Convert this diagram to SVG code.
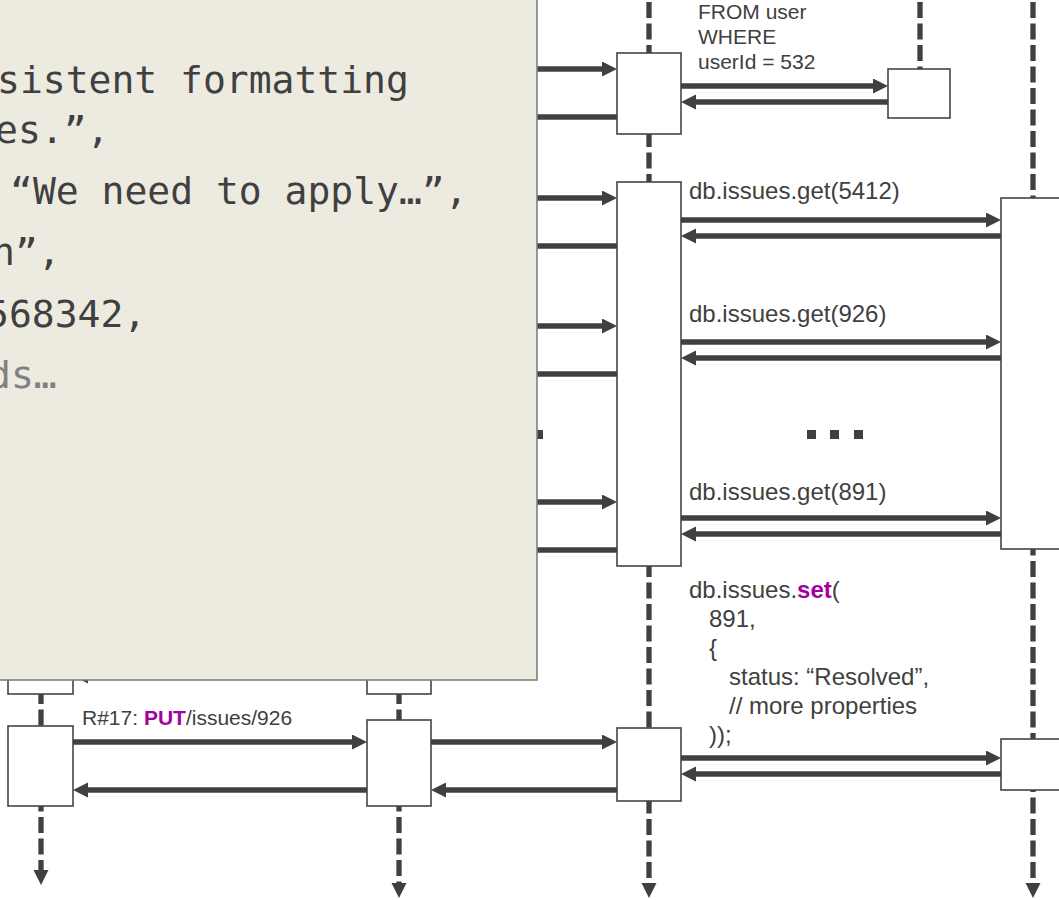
<svg xmlns="http://www.w3.org/2000/svg" width="1059" height="900" viewBox="0 0 1059 900">
<defs>
<marker id="ah" markerUnits="userSpaceOnUse" markerWidth="16" markerHeight="16" refX="3" refY="7.5" orient="auto">
<path d="M0,0 L15,7.5 L0,15 Z" fill="#404040"/>
</marker>
<style>
.life{stroke:#404040;stroke-width:5.3;stroke-dasharray:16 5.5;fill:none}
.box{fill:#ffffff;stroke:#454545;stroke-width:1.6}
.msg{stroke:#404040;stroke-width:5.5;fill:none;marker-end:url(#ah)}
.lbl{font-family:"Liberation Sans",Arial,sans-serif;fill:#404040}
.s21{font-size:21px}
.s24{font-size:24px}
.hl{fill:#a4009e;font-weight:bold}
.dot{fill:#404040}
.note{fill:#edebe0;stroke:#7f7f7f;stroke-width:1.6}
.code{font-family:"DejaVu Sans Mono","Liberation Mono",monospace;font-size:38px;fill:#404040}
.dim{fill:#808080}
</style>
</defs>
<rect width="1059" height="900" fill="#ffffff"/>

<g id="lane1">
<line class="life" x1="41" y1="0" x2="41" y2="873" marker-end="url(#ah)"/>
<rect class="box" x="8" y="600" width="65" height="94"/>
<rect class="box" x="8" y="726" width="65" height="80"/>
</g>
<g id="lane2">
<line class="life" x1="399" y1="0" x2="399" y2="886" marker-end="url(#ah)"/>
<rect class="box" x="367" y="600" width="64" height="94"/>
<rect class="box" x="367" y="720" width="64" height="86"/>
</g>
<g id="lane3">
<line class="life" x1="649" y1="2" x2="649" y2="886" marker-end="url(#ah)"/>
<rect class="box" x="617" y="53" width="64" height="81"/>
<rect class="box" x="617" y="182" width="64" height="384"/>
<rect class="box" x="617" y="728" width="64" height="73"/>
</g>
<g id="lane4">
<line class="life" x1="920" y1="2" x2="920" y2="69"/>
<rect class="box" x="888" y="69" width="62" height="49"/>
</g>
<g id="lane5">
<line class="life" x1="1033" y1="2" x2="1033" y2="886" marker-end="url(#ah)"/>
<rect class="box" x="1001" y="198" width="64" height="351"/>
<rect class="box" x="1001" y="739" width="64" height="51"/>
</g>

<g id="connectors">
<line class="msg" x1="431" y1="69" x2="605" y2="69"/>
<line class="msg" x1="617" y1="117" x2="443" y2="117"/>
<line class="msg" x1="681" y1="86" x2="876" y2="86"/>
<line class="msg" x1="888" y1="102" x2="693" y2="102"/>
<line class="msg" x1="431" y1="198" x2="605" y2="198"/>
<line class="msg" x1="617" y1="246" x2="443" y2="246"/>
<line class="msg" x1="681" y1="220" x2="989" y2="220"/>
<line class="msg" x1="1001" y1="236" x2="693" y2="236"/>
<line class="msg" x1="431" y1="326" x2="605" y2="326"/>
<line class="msg" x1="617" y1="374" x2="443" y2="374"/>
<line class="msg" x1="681" y1="342" x2="989" y2="342"/>
<line class="msg" x1="1001" y1="358" x2="693" y2="358"/>
<line class="msg" x1="431" y1="502" x2="605" y2="502"/>
<line class="msg" x1="617" y1="550" x2="443" y2="550"/>
<line class="msg" x1="681" y1="518" x2="989" y2="518"/>
<line class="msg" x1="1001" y1="534" x2="693" y2="534"/>
<line class="msg" x1="367" y1="676" x2="85" y2="676"/>
<line class="msg" x1="73" y1="742" x2="355" y2="742"/>
<line class="msg" x1="367" y1="790" x2="85" y2="790"/>
<line class="msg" x1="431" y1="742" x2="605" y2="742"/>
<line class="msg" x1="617" y1="790" x2="443" y2="790"/>
<line class="msg" x1="681" y1="758" x2="989" y2="758"/>
<line class="msg" x1="1001" y1="774" x2="693" y2="774"/>
<rect class="dot" x="488" y="430" width="9" height="9"/>
<rect class="dot" x="511" y="430" width="9" height="9"/>
<rect class="dot" x="534" y="430" width="9" height="9"/>
<rect class="dot" x="807" y="430" width="9" height="9"/>
<rect class="dot" x="830" y="430" width="9" height="9"/>
<rect class="dot" x="854" y="430" width="9" height="9"/>
<text class="lbl s21" x="698" y="19">FROM user</text>
<text class="lbl s21" x="698" y="44">WHERE</text>
<text class="lbl s21" x="698" y="69">userId = 532</text>
<text class="lbl s24" x="689" y="199">db.issues.get(5412)</text>
<text class="lbl s24" x="689" y="322">db.issues.get(926)</text>
<text class="lbl s24" x="689" y="500">db.issues.get(891)</text>
<text class="lbl s24" x="689" y="598">db.issues.<tspan class="hl">set</tspan>(</text>
<text class="lbl s24" x="709" y="627">891,</text>
<text class="lbl s24" x="709" y="656">{</text>
<text class="lbl s24" x="729" y="685">status: “Resolved”,</text>
<text class="lbl s24" x="729" y="714">// more properties</text>
<text class="lbl s24" x="709" y="743">));</text>
<text class="lbl s21" x="82" y="725">R#17: <tspan class="hl">PUT</tspan>/issues/926</text>
</g>

<g id="note">
<rect class="note" x="-10" y="-10" width="547" height="690"/>
<text class="code" x="-3" y="93">sistent formatting</text>
<text class="code" x="-5" y="143">es.”,</text>
<text class="code" x="10" y="204">“We need to apply…”,</text>
<text class="code" x="-8" y="265">n”,</text>
<text class="code" x="-14" y="327">568342,</text>
<text class="code dim" x="-12" y="388">ds…</text>
</g>
</svg>
